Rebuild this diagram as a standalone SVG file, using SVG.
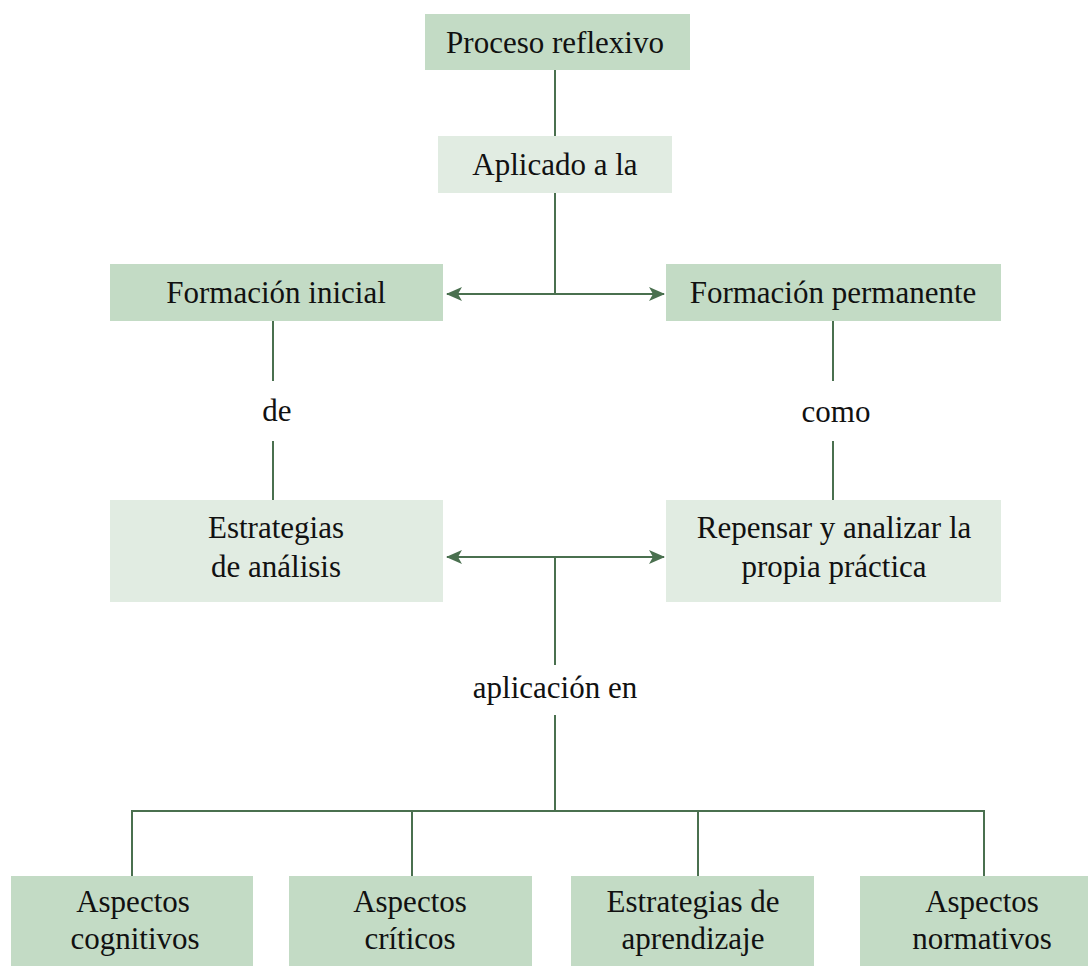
<svg xmlns="http://www.w3.org/2000/svg" width="1088" height="966" viewBox="0 0 1088 966">
  <style>
    .dark { fill: #c3dbc5; }
    .light { fill: #e1ece2; }
    text { font-size: 31px; fill: #111111; text-anchor: middle; }
    .conn { stroke: #4a704f; stroke-width: 2; fill: none; }
  </style>
  <defs>
    <marker id="arrow" viewBox="0 0 16 14" refX="15" refY="7" markerWidth="16" markerHeight="14" markerUnits="userSpaceOnUse" orient="auto-start-reverse">
      <path d="M0,0 L16,7 L0,14 L4,7 Z" fill="#4a704f"/>
    </marker>
  </defs>
  <rect width="1088" height="966" fill="#ffffff"/>

  <!-- connectors -->
  <g id="connectors">
    <line class="conn" x1="555" y1="70" x2="555" y2="136"/>
    <line class="conn" x1="555" y1="193" x2="555" y2="294"/>
    <line class="conn" x1="447" y1="294" x2="664" y2="294" marker-start="url(#arrow)" marker-end="url(#arrow)"/>
    <line class="conn" x1="273" y1="321" x2="273" y2="381"/>
    <line class="conn" x1="273" y1="441" x2="273" y2="500"/>
    <line class="conn" x1="833" y1="321" x2="833" y2="381"/>
    <line class="conn" x1="833" y1="441" x2="833" y2="500"/>
    <line class="conn" x1="447" y1="557" x2="664" y2="557" marker-start="url(#arrow)" marker-end="url(#arrow)"/>
    <line class="conn" x1="555" y1="557" x2="555" y2="665"/>
    <line class="conn" x1="555" y1="715" x2="555" y2="811"/>
    <polyline class="conn" points="132,876 132,811 984,811 984,876"/>
    <line class="conn" x1="412" y1="811" x2="412" y2="876"/>
    <line class="conn" x1="698" y1="811" x2="698" y2="876"/>
  </g>

  <g font-family="Liberation Serif, Times New Roman, Tinos, DejaVu Serif, serif">
  <g id="proceso">
    <rect class="dark" x="425" y="14" width="265" height="56"/>
    <text x="555" y="53">Proceso reflexivo</text>
  </g>
  <g id="aplicado">
    <rect class="light" x="438" y="136" width="234" height="57"/>
    <text x="555" y="175">Aplicado a la</text>
  </g>
  <g id="formacion-inicial">
    <rect class="dark" x="110" y="264" width="333" height="57"/>
    <text x="276" y="303">Formación inicial</text>
  </g>
  <g id="formacion-permanente">
    <rect class="dark" x="666" y="264" width="335" height="57"/>
    <text x="833" y="303">Formación permanente</text>
  </g>
  <g id="label-de">
    <text x="277" y="421">de</text>
  </g>
  <g id="label-como">
    <text x="836" y="422">como</text>
  </g>
  <g id="estrategias-analisis">
    <rect class="light" x="110" y="500" width="333" height="102"/>
    <text x="276" y="538">Estrategias</text>
    <text x="276" y="577">de análisis</text>
  </g>
  <g id="repensar">
    <rect class="light" x="666" y="500" width="335" height="102"/>
    <text x="834" y="538">Repensar y analizar la</text>
    <text x="834" y="577">propia práctica</text>
  </g>
  <g id="label-aplicacion">
    <text x="555" y="698">aplicación en</text>
  </g>
  <g id="aspectos-cognitivos">
    <rect class="dark" x="11" y="876" width="242" height="90"/>
    <text x="133" y="912">Aspectos</text>
    <text x="135" y="949">cognitivos</text>
  </g>
  <g id="aspectos-criticos">
    <rect class="dark" x="289" y="876" width="243" height="90"/>
    <text x="410" y="912">Aspectos</text>
    <text x="410" y="949">críticos</text>
  </g>
  <g id="estrategias-aprendizaje">
    <rect class="dark" x="571" y="876" width="243" height="90"/>
    <text x="693" y="912">Estrategias de</text>
    <text x="693" y="949">aprendizaje</text>
  </g>
  <g id="aspectos-normativos">
    <rect class="dark" x="860" y="876" width="228" height="90"/>
    <text x="982" y="912">Aspectos</text>
    <text x="982" y="949">normativos</text>
  </g>
  </g>
</svg>
